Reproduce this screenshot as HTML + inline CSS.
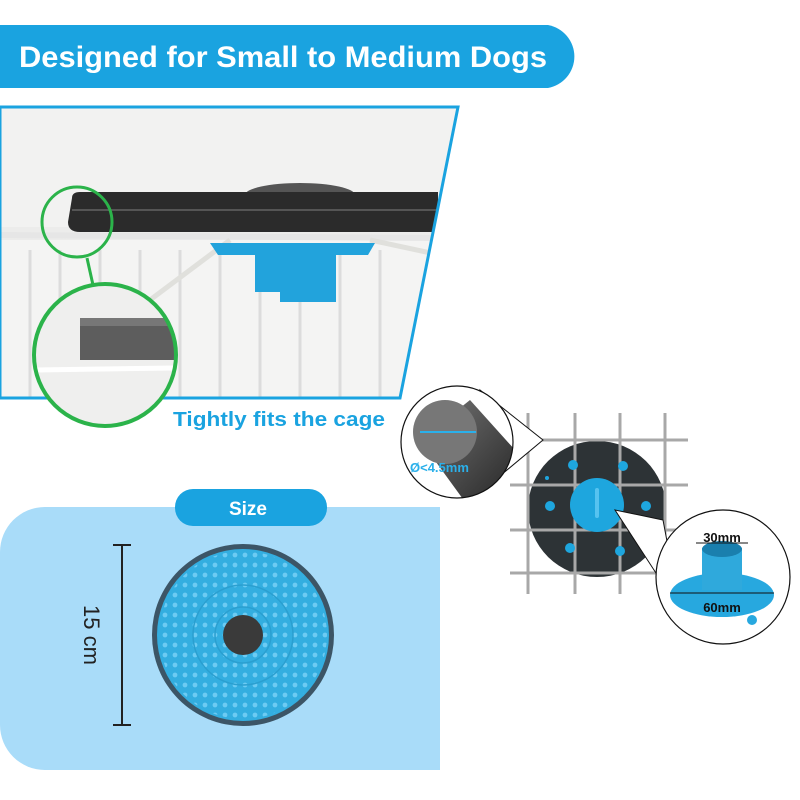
<!DOCTYPE html>
<html><head><meta charset="utf-8"><style>
html,body{margin:0;padding:0;background:#fff;width:800px;height:800px;overflow:hidden}
svg{display:block}
text{font-family:"Liberation Sans",sans-serif}
</style></head><body>
<svg width="800" height="800" viewBox="0 0 800 800">
<defs>
<linearGradient id="rod" x1="0" y1="0" x2="1" y2="1"><stop offset="0" stop-color="#777"/><stop offset="1" stop-color="#000"/></linearGradient>
<clipPath id="photo"><polygon points="0,107 458,107 400,398 0,398"/></clipPath>
<clipPath id="mag1"><circle cx="457" cy="442" r="56"/></clipPath>
<clipPath id="mag2"><circle cx="723" cy="577" r="67"/></clipPath>
<clipPath id="gc"><circle cx="105" cy="355" r="71"/></clipPath>
<pattern id="dots" width="10" height="10" patternUnits="userSpaceOnUse"><circle cx="5" cy="5" r="2.4" fill="#6ccbf3"/></pattern>
</defs>
<path d="M0,25 H548 A32,32 0 0 1 548,88 H0 Z" fill="#1aa3e0"/>
<text x="283" y="67" font-size="30" font-weight="bold" fill="#fff" text-anchor="middle" textLength="528" lengthAdjust="spacingAndGlyphs">Designed for Small to Medium Dogs</text>
<g clip-path="url(#photo)">
<rect x="0" y="107" width="460" height="295" fill="#ececeb"/>
<rect x="0" y="107" width="460" height="120" fill="#f2f2f1"/>
<rect x="0" y="240" width="460" height="160" fill="#f4f4f3"/>
<g stroke="#dcdcdc" stroke-width="3">
<line x1="30" y1="250" x2="30" y2="398"/><line x1="60" y1="250" x2="60" y2="398"/><line x1="100" y1="250" x2="100" y2="398"/><line x1="140" y1="250" x2="140" y2="398"/><line x1="180" y1="250" x2="180" y2="398"/><line x1="220" y1="250" x2="220" y2="398"/><line x1="260" y1="250" x2="260" y2="398"/><line x1="300" y1="250" x2="300" y2="398"/><line x1="340" y1="250" x2="340" y2="398"/><line x1="380" y1="250" x2="380" y2="398"/>
</g>
<line x1="0" y1="235" x2="440" y2="238" stroke="#e6e6e6" stroke-width="6"/>
<line x1="230" y1="240" x2="150" y2="300" stroke="#e0e0dc" stroke-width="5"/>
<line x1="370" y1="240" x2="440" y2="255" stroke="#e0e0dc" stroke-width="5"/>
<ellipse cx="300" cy="195" rx="55" ry="12" fill="#555"/>
<path d="M72,198 Q72,192 80,192 H438 V232 H80 Q68,232 68,222 Z" fill="#2b2b2b"/>
<line x1="72" y1="210" x2="438" y2="210" stroke="#555" stroke-width="2"/>
<path d="M210,243 H375 L368,255 H336 V302 H280 V292 H255 V255 H218 Z" fill="#22a3dc"/>
</g>
<polygon points="0,107 458,107 400,398 0,398" fill="none" stroke="#1aa3e0" stroke-width="3"/>
<line x1="87" y1="258" x2="93" y2="285" stroke="#2bb34a" stroke-width="3"/>
<circle cx="77" cy="222" r="35" fill="none" stroke="#2bb34a" stroke-width="3"/>
<g clip-path="url(#gc)"><rect x="30" y="280" width="150" height="150" fill="#efefee"/>
<path d="M80,320 H175 V360 H80 Z" fill="#5d5d5d"/><rect x="80" y="318" width="95" height="8" fill="#777"/>
<line x1="35" y1="370" x2="175" y2="368" stroke="#fff" stroke-width="5"/></g>
<circle cx="105" cy="355" r="71" fill="none" stroke="#2bb34a" stroke-width="4"/>
<text x="173" y="426" font-size="20" font-weight="bold" fill="#1aa3e0" textLength="212" lengthAdjust="spacingAndGlyphs">Tightly fits the cage</text>
<path d="M45,507 H440 V770 H45 A45,45 0 0 1 0,725 V552 A45,45 0 0 1 45,507 Z" fill="#a9dcf9"/>
<rect x="175" y="489" width="152" height="37" rx="18" fill="#1aa3e0"/>
<text x="248" y="515" font-size="19" font-weight="bold" fill="#fff" text-anchor="middle">Size</text>
<g stroke="#222" stroke-width="2"><line x1="122" y1="545" x2="122" y2="725"/><line x1="113" y1="545" x2="131" y2="545"/><line x1="113" y1="725" x2="131" y2="725"/></g>
<text transform="translate(84,635) rotate(90)" font-size="22" fill="#222" text-anchor="middle">15 cm</text>
<circle cx="243" cy="635" r="91" fill="#3c5566"/>
<circle cx="243" cy="635" r="86" fill="#33aee0"/>
<circle cx="243" cy="635" r="84" fill="url(#dots)"/>
<circle cx="243" cy="635" r="50" fill="none" stroke="#2a9fd0" stroke-width="1.5"/>
<circle cx="243" cy="635" r="28" fill="none" stroke="#2a9fd0" stroke-width="1.5"/>
<circle cx="243" cy="635" r="20" fill="#3a3a3a"/>
<ellipse cx="597" cy="509" rx="69" ry="68" fill="#2d3336"/>
<g stroke="#a8a8a8" stroke-width="3">
<line x1="528" y1="413" x2="528" y2="594"/><line x1="575" y1="413" x2="575" y2="594"/><line x1="620" y1="413" x2="620" y2="594"/><line x1="665" y1="413" x2="665" y2="594"/>
<line x1="510" y1="440" x2="688" y2="440"/><line x1="510" y1="485" x2="688" y2="485"/><line x1="510" y1="530" x2="688" y2="530"/><line x1="510" y1="573" x2="688" y2="573"/>
</g>
<g fill="#1ea6de"><circle cx="573" cy="465" r="5"/><circle cx="623" cy="466" r="5"/><circle cx="550" cy="506" r="5"/><circle cx="646" cy="506" r="5"/><circle cx="570" cy="548" r="5"/><circle cx="620" cy="551" r="5"/><circle cx="547" cy="478" r="2"/></g>
<circle cx="597" cy="505" r="27" fill="#1ea6de"/>
<rect x="595" y="488" width="4" height="30" rx="2" fill="#56c3f0"/>
<polygon points="480,390 543,440 495,480" fill="#fff" stroke="#111" stroke-width="1"/>
<circle cx="457" cy="442" r="56" fill="#fff"/>
<g clip-path="url(#mag1)">
<path d="M420,440 L470,400 L560,500 L500,550 Z" fill="url(#rod)"/>
<circle cx="445" cy="432" r="32" fill="#777"/>
</g>
<circle cx="457" cy="442" r="56" fill="none" stroke="#111" stroke-width="1.2"/>
<line x1="420" y1="432" x2="476" y2="432" stroke="#2ab0ea" stroke-width="2"/>
<text x="410" y="472" font-size="13" font-weight="bold" fill="#2ab0ea">Ø&lt;4.5mm</text>
<polygon points="615,510 663,520 680,610" fill="#fff" stroke="#111" stroke-width="1"/>
<circle cx="723" cy="577" r="67" fill="#fff" stroke="#111" stroke-width="1.2"/>
<g clip-path="url(#mag2)">
<ellipse cx="722" cy="595" rx="52" ry="22" fill="#27a8df"/>
<rect x="702" y="548" width="40" height="42" fill="#2fa9dc"/>
<ellipse cx="722" cy="549" rx="20" ry="8" fill="#1a7fae"/>
<circle cx="752" cy="620" r="5" fill="#27a8df"/>
</g>
<g stroke="#111" stroke-width="1"><line x1="696" y1="543" x2="748" y2="543"/><line x1="670" y1="593" x2="774" y2="593"/></g>
<text x="722" y="542" font-size="13" font-weight="bold" fill="#111" text-anchor="middle">30mm</text>
<text x="722" y="612" font-size="13" font-weight="bold" fill="#111" text-anchor="middle">60mm</text>
</svg>
</body></html>
